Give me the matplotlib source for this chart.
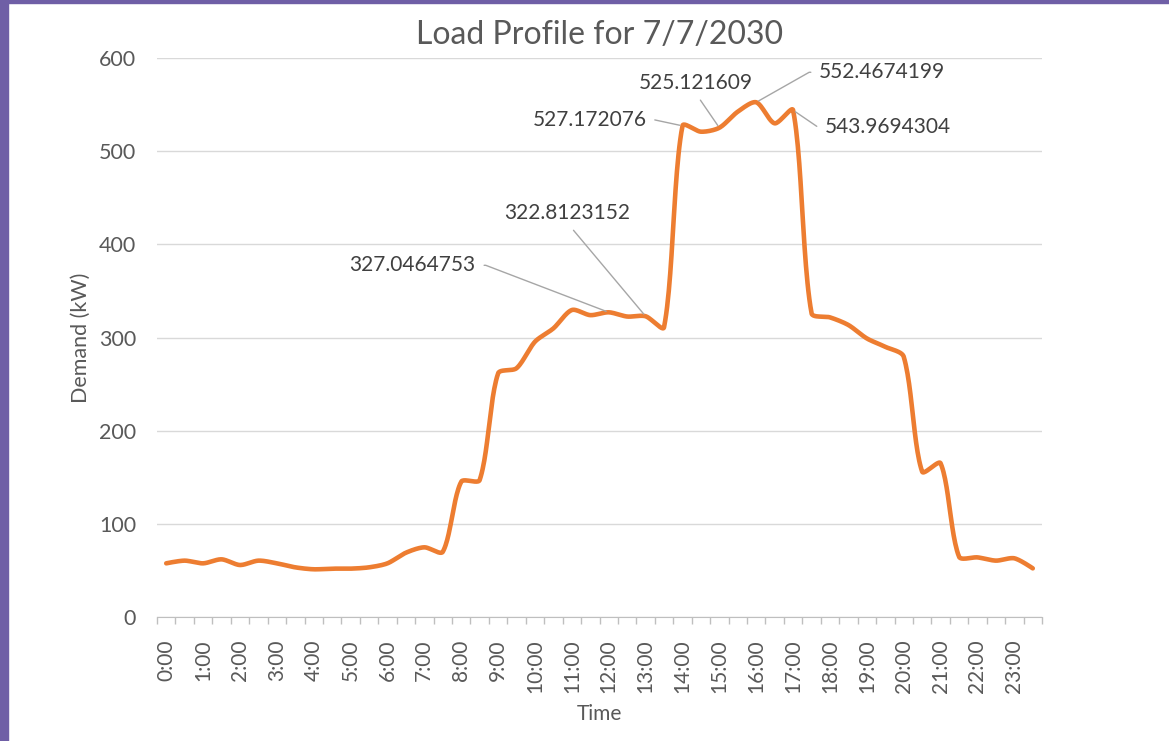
import numpy as np
import matplotlib.pyplot as plt
from matplotlib.patches import Rectangle

# half-hourly demand (kW)
demand = [57.6, 60.5, 57.6, 61.9, 55.8, 60.5, 57.6, 53.3,
          51.2, 51.9, 51.9, 53.3, 57.6, 69.0, 74.8, 70.0,
          145.2, 147.0, 261.5, 267.0, 295.5, 309.8, 329.5, 324.0,
          327.0464753, 322.5, 322.8123152, 311.0,
          527.172076, 520.9, 525.121609, 542.4, 552.4674199, 529.9, 543.9694304,
          326.0, 321.6, 313.4, 299.0, 290.0, 279.4, 156.0, 165.0,
          64.7, 64.0, 60.5, 63.0, 52.2]

hour_labels = ["0:00", "1:00", "2:00", "3:00", "4:00", "5:00", "6:00", "7:00",
               "8:00", "9:00", "10:00", "11:00", "12:00", "13:00", "14:00", "15:00",
               "16:00", "17:00", "18:00", "19:00", "20:00", "21:00", "22:00", "23:00"]

labelled_points = [24, 26, 28, 30, 32, 34]

ORANGE = "#ED7D31"
GREY_TXT = "#595959"
PURPLE = "#6F5FA6"


def smooth_line(x, y, sx, sy, tension=0.28, steps=24):
    """Bezier smoothing through the points, tangents weighted by on-screen segment length"""
    px = np.asarray(x, float) * sx
    py = np.asarray(y, float) * sy
    n = len(px)
    cin_x, cin_y = px.copy(), py.copy()
    cout_x, cout_y = px.copy(), py.copy()
    for i in range(1, n - 1):
        d01 = np.hypot(px[i] - px[i - 1], py[i] - py[i - 1])
        d12 = np.hypot(px[i + 1] - px[i], py[i + 1] - py[i])
        tx = px[i + 1] - px[i - 1]
        ty = py[i + 1] - py[i - 1]
        fa = tension * d01 / (d01 + d12)
        fb = tension * d12 / (d01 + d12)
        cin_x[i], cin_y[i] = px[i] - fa * tx, py[i] - fa * ty
        cout_x[i], cout_y[i] = px[i] + fb * tx, py[i] + fb * ty
    t = np.linspace(0, 1, steps, endpoint=False)[:, None]
    out = []
    for p, co, ci in ((px, cout_x, cin_x), (py, cout_y, cin_y)):
        p1, p2 = p[:-1], p[1:]
        c1, c2 = co[:-1], ci[1:]
        seg = (1 - t)**3 * p1 + 3 * (1 - t)**2 * t * c1 + 3 * (1 - t) * t**2 * c2 + t**3 * p2
        out.append(np.r_[seg.T.ravel(), p[-1]])
    return out[0] / sx, out[1] / sy


def main():
    plt.rcParams['font.family'] = ['Lato', 'DejaVu Sans']

    fig = plt.figure(figsize=(11.69, 7.41), dpi=100)
    fig.patches.append(Rectangle((0, 0), 8 / 1169, 1, transform=fig.transFigure,
                                 color=PURPLE, zorder=10))
    fig.patches.append(Rectangle((0, 1 - 3 / 741), 1, 3 / 741, transform=fig.transFigure,
                                 color=PURPLE, zorder=10))

    ax = fig.add_axes([157 / 1169, 124 / 741, 885 / 1169, 559 / 741])

    idx = np.arange(len(demand))
    # pixel scale of the axes, so smoothing is done in screen space
    xs, ys = smooth_line(idx, demand, 885 / len(demand), 559 / 600)
    ax.plot(xs, ys, color=ORANGE, lw=3.3, solid_capstyle='round',
            solid_joinstyle='round', zorder=3)

    ax.set_xlim(-0.5, len(demand) - 0.5)
    ax.set_ylim(0, 600)
    ax.set_yticks(np.arange(0, 601, 100))
    ax.grid(axis='y', color="#D9D9D9", lw=1)
    ax.set_axisbelow(True)

    # ticks at every category boundary, hour labels on every second category
    ax.set_xticks(np.arange(-0.5, len(demand), 1))
    ax.set_xticklabels([])
    ax.set_xticks(idx[::2], minor=True)
    ax.set_xticklabels(hour_labels, minor=True, rotation=90, fontsize=15, color=GREY_TXT)
    ax.tick_params(axis='x', which='major', length=5, color="#BFBFBF", width=1)
    ax.tick_params(axis='x', which='minor', length=0, pad=16)
    ax.tick_params(axis='y', length=0, pad=15, labelsize=15.5, labelcolor=GREY_TXT)

    for s in ['left', 'right', 'top']:
        ax.spines[s].set_visible(False)
    ax.spines['bottom'].set_color("#BFBFBF")

    ax.set_title("Load Profile for 7/7/2030", fontsize=23, color=GREY_TXT, pad=10)
    ax.set_xlabel("Time", fontsize=15, color=GREY_TXT, labelpad=8)
    ax.set_ylabel("Demand (kW)", fontsize=15.5, color=GREY_TXT, labelpad=6)

    # label offsets (pixels) and leader-line styles
    offsets = [(-196, 47), (-78, 103), (-93, 6), (-24, 45), (126, 30), (95, -17)]
    relpos = [(1, 0.5), (0.5, 0), (1, 0.5), (0.5, 0), (0, 0.5), (0, 0.5)]
    conns = ["arc,angleA=0,armA=10,angleB=0,armB=0,rad=0", "arc3",
             "arc,angleA=0,armA=8,angleB=0,armB=0,rad=0", "arc3",
             "arc,angleA=180,armA=10,angleB=0,armB=0,rad=0",
             "arc,angleA=180,armA=7,angleB=0,armB=0,rad=0"]
    for i, off, rp, cs in zip(labelled_points, offsets, relpos, conns):
        ax.annotate(f"{demand[i]:.10g}", xy=(i, demand[i]), xytext=off,
                    textcoords='offset pixels', ha='center', va='center',
                    fontsize=15, color="#404040", zorder=5,
                    arrowprops=dict(arrowstyle='-', color="#A6A6A6", lw=1,
                                    relpos=rp, shrinkA=4, shrinkB=2,
                                    connectionstyle=cs))

    plt.savefig("out.png", dpi=100)


if __name__ == '__main__':
    main()
